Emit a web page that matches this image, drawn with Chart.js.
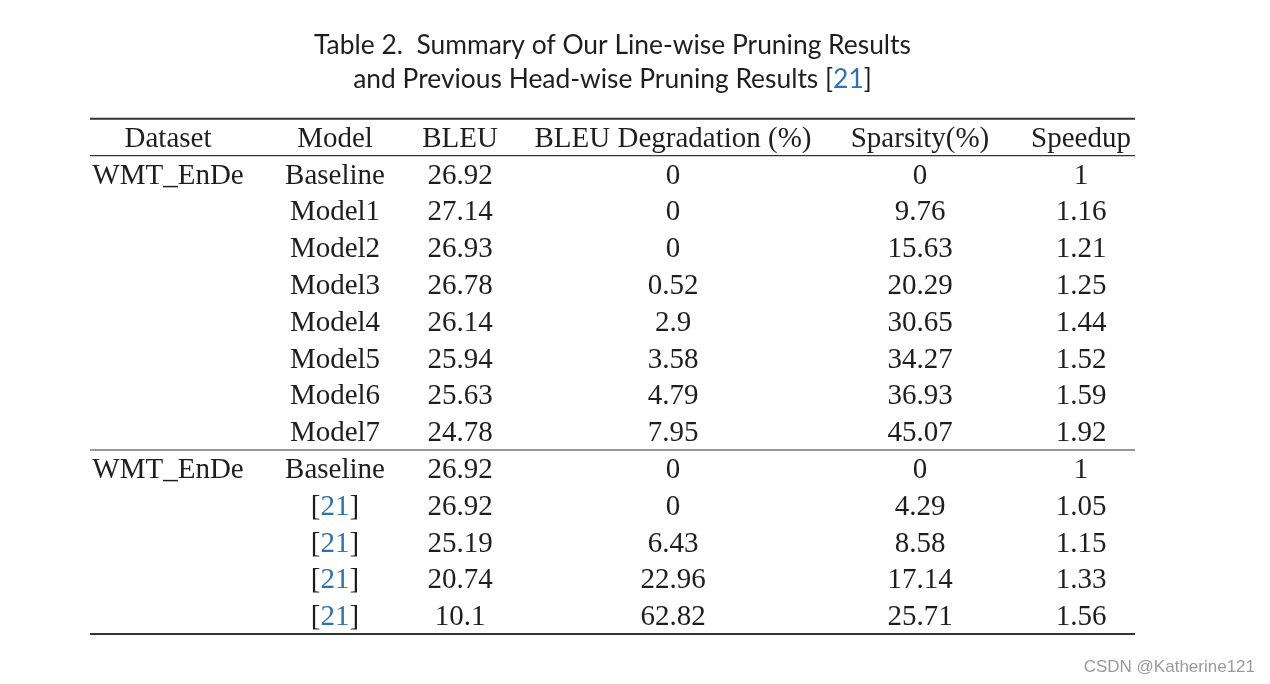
<!DOCTYPE html>
<html>
<head>
<meta charset="utf-8">
<title>Table 2</title>
<script src="https://cdn.jsdelivr.net/npm/chart.js@4/dist/chart.umd.min.js"></script>
<style>
  html, body { margin: 0; padding: 0; background: #fff; }
  canvas { display: block; }
</style>
</head>
<body>
<canvas id="tableChart" width="1270" height="684"></canvas>
<script>
const titleLines = ['Table 2.  Summary of Our Line-wise Pruning Results', 'and Previous Head-wise Pruning Results '];
const titleCite = '[21]';
const columns = ['Dataset', 'Model', 'BLEU', 'BLEU Degradation (%)', 'Sparsity(%)', 'Speedup'];
const datasetNames = ['WMT_EnDe', '', '', '', '', '', '', '', 'WMT_EnDe', '', '', '', ''];
const models = ['Baseline', 'Model1', 'Model2', 'Model3', 'Model4', 'Model5', 'Model6', 'Model7',
                'Baseline', '[21]', '[21]', '[21]', '[21]'];
const bleu = [26.92, 27.14, 26.93, 26.78, 26.14, 25.94, 25.63, 24.78, 26.92, 26.92, 25.19, 20.74, 10.1];
const degradation = [0, 0, 0, 0.52, 2.9, 3.58, 4.79, 7.95, 0, 0, 6.43, 22.96, 62.82];
const sparsity = [0, 9.76, 15.63, 20.29, 30.65, 34.27, 36.93, 45.07, 0, 4.29, 8.58, 17.14, 25.71];
const speedup = [1, 1.16, 1.21, 1.25, 1.44, 1.52, 1.59, 1.92, 1, 1.05, 1.15, 1.33, 1.56];

// layout (pixels on the x scale, row units on the y scale)
const colCenters = [168, 335, 460, 673, 920, 1081];
const ruleLeft = 90, ruleRight = 1135;
const rowStep = 36.8, firstRowPx = 174;
const yMin = -firstRowPx / rowStep;
const yMax = yMin + 684 / rowStep;
const baselineShift = 9.5;

const cellFont = '29px "Liberation Serif", serif';
const ink = '#1e1e1e';
const citeBlue = '#2f72ad';

const cols = [datasetNames, models, bleu, degradation, sparsity, speedup];
const datasets = cols.map((vals, c) => ({
  label: columns[c],
  data: vals.map((v, i) => ({ x: colCenters[c], y: i, text: String(v) })),
  pointRadius: 0,
  showLine: false
}));

function drawCite(ctx, x0, y) {
  const wb = ctx.measureText('[').width;
  const wn = ctx.measureText('21').width;
  ctx.textAlign = 'left';
  ctx.fillStyle = ink;
  ctx.fillText('[', x0, y);
  ctx.fillStyle = citeBlue;
  ctx.fillText('21', x0 + wb, y);
  ctx.fillStyle = ink;
  ctx.fillText(']', x0 + wb + wn, y);
  return wb * 2 + wn;
}

const tablePlugin = {
  id: 'tableText',
  afterDatasetsDraw(chart) {
    const ctx = chart.ctx;
    const xs = chart.scales.x, ys = chart.scales.y;
    ctx.save();
    ctx.textBaseline = 'alphabetic';
    ctx.font = cellFont;

    // header row
    ctx.textAlign = 'center';
    ctx.fillStyle = ink;
    columns.forEach((h, c) => {
      ctx.fillText(h, xs.getPixelForValue(colCenters[c]), ys.getPixelForValue(-1) + baselineShift);
    });

    // body cells
    chart.data.datasets.forEach((ds, c) => {
      const meta = chart.getDatasetMeta(c);
      meta.data.forEach((pt, i) => {
        const t = ds.data[i].text;
        if (!t) return;
        const y = pt.y + baselineShift;
        if (t === '[21]') {
          const total = ctx.measureText('[21]').width;
          drawCite(ctx, pt.x - total / 2, y);
        } else {
          ctx.textAlign = 'center';
          ctx.fillStyle = ink;
          ctx.fillText(t, pt.x, y);
        }
      });
    });

    // rules
    const l = xs.getPixelForValue(ruleLeft), r = xs.getPixelForValue(ruleRight);
    const rule = (v, w) => {
      const y = ys.getPixelForValue(v);
      ctx.beginPath();
      ctx.lineWidth = w;
      ctx.strokeStyle = '#333';
      ctx.moveTo(l, y);
      ctx.lineTo(r, y);
      ctx.stroke();
    };
    rule(-1.5, 2);
    rule(-0.5, 1.2);
    rule(7.5, 1.2);
    rule(12.5, 2);

    // title
    ctx.font = '26.4px Lato, "Open Sans", sans-serif';
    ctx.textBaseline = 'middle';
    ctx.textAlign = 'center';
    ctx.fillStyle = ink;
    const cx = (l + r) / 2;
    ctx.fillText(titleLines[0], cx, 45);
    const w1 = ctx.measureText(titleLines[1]).width;
    const w2 = ctx.measureText(titleCite).width;
    const sx = cx - (w1 + w2) / 2;
    ctx.textAlign = 'left';
    ctx.fillText(titleLines[1], sx, 79);
    drawCite(ctx, sx + w1, 79);

    // watermark
    ctx.font = '17px "Liberation Sans", sans-serif';
    ctx.fillStyle = '#9a9a9a';
    ctx.textAlign = 'right';
    ctx.fillText('CSDN @Katherine121', 1255, 667);
    ctx.restore();
  }
};

new Chart(document.getElementById('tableChart').getContext('2d'), {
  type: 'scatter',
  data: { datasets: datasets },
  options: {
    responsive: false,
    animation: false,
    devicePixelRatio: 1,
    layout: { padding: 0 },
    plugins: { legend: { display: false }, tooltip: { enabled: false }, title: { display: false } },
    scales: {
      x: { type: 'linear', min: 0, max: 1270, display: false },
      y: { type: 'linear', min: yMin, max: yMax, reverse: true, display: false }
    }
  },
  plugins: [tablePlugin]
});
</script>
</body>
</html>
